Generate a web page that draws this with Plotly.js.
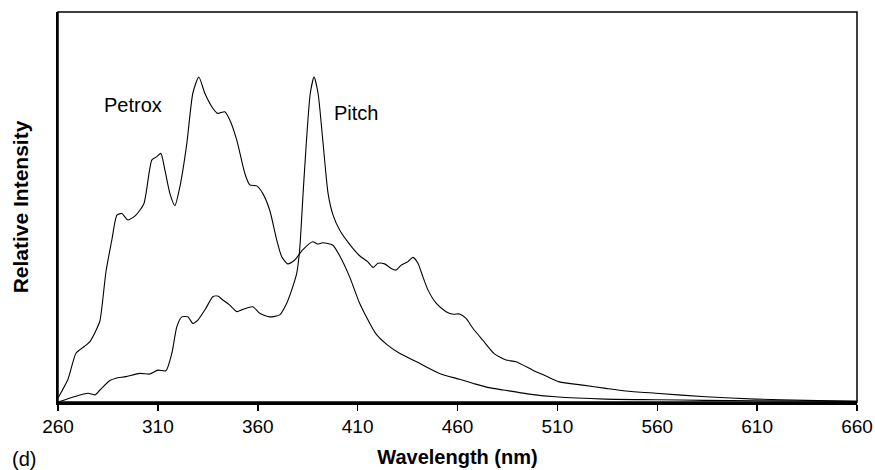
<!DOCTYPE html>
<html>
<head>
<meta charset="utf-8">
<script src="https://cdn.plot.ly/plotly-3.0.1.min.js"></script>
<style>html,body{margin:0;padding:0;background:#fff;}#chart{width:875px;height:470px;}</style>
</head>
<body>
<div id="chart"></div>
<script>
// Wavelength (nm) and relative intensity
const petroxX = [260,265,269,273,276,279,281,284,287,289.5,292,295,299,303,307,309.5,311.5,313.5,316,318.5,321,324.5,327.5,330.5,333.5,337.5,340,343.5,346,349.5,353.5,356,359.5,362.5,366,369.5,372,375,378.5,382.5,387.5,390,392.5,397.5,401,406,411,419,425,431,441,451,461,468,475,483,495,509,534,559,584,610,634,660];
const petroxY = [0.012,0.07,0.15,0.17,0.186,0.22,0.25,0.40,0.50,0.575,0.58,0.56,0.575,0.61,0.745,0.755,0.765,0.714,0.642,0.604,0.662,0.796,0.95,1.0,0.95,0.904,0.888,0.893,0.868,0.806,0.704,0.668,0.665,0.642,0.59,0.498,0.447,0.425,0.437,0.468,0.493,0.486,0.49,0.483,0.45,0.385,0.304,0.211,0.175,0.15,0.119,0.088,0.07,0.057,0.045,0.037,0.025,0.016,0.009,0.007,0.005,0.004,0.003,0.002];

const pitchX = [260,264,268,275,278.5,281,286,289,294,301,306,310,314,317,319.5,322,325,327.5,330,334,337.5,340,342.5,346,349.5,352.5,357.5,361,366,371,374.5,377,379.5,381,382.7,384.3,386.3,388.2,390.2,392.7,395.2,397.7,401,406,411,415,417.7,420.2,423.5,426.8,429.3,431.8,435.2,437.7,440.2,442.7,445.2,449.3,454.3,458,461,464.3,467.7,472.7,478.5,484.3,489.3,497.7,504.3,511,522.7,534.3,544.3,559.3,584.3,609.3,634.3,660];
const pitchY = [0.0,0.008,0.016,0.027,0.022,0.037,0.066,0.073,0.078,0.088,0.086,0.098,0.096,0.15,0.232,0.262,0.262,0.242,0.252,0.288,0.324,0.326,0.314,0.298,0.278,0.285,0.293,0.273,0.262,0.268,0.304,0.345,0.396,0.47,0.642,0.796,0.95,1.0,0.95,0.796,0.642,0.575,0.529,0.485,0.45,0.432,0.414,0.427,0.425,0.411,0.406,0.421,0.432,0.445,0.427,0.385,0.345,0.304,0.278,0.270,0.271,0.257,0.227,0.19,0.148,0.129,0.124,0.098,0.08,0.062,0.052,0.042,0.034,0.027,0.016,0.009,0.005,0.002];

const xTicks = [260,310,360,410,460,510,560,610,660];
const seriesNames = ['Petrox','Pitch'];

const FONT = '"Liberation Sans", Arial, Helvetica, sans-serif';
const lineStyle = {color:'#000', width:1.1, shape:'spline', smoothing:0.6};

const traces = [
  {x: petroxX, y: petroxY, type:'scatter', mode:'lines', name: seriesNames[0], line: lineStyle, hoverinfo:'x+y+name'},
  {x: pitchX, y: pitchY, type:'scatter', mode:'lines', name: seriesNames[1], line: lineStyle, hoverinfo:'x+y+name'}
];

const layout = {
  width: 875, height: 470,
  margin: {l:58, r:18, t:12, b:68, pad:0},
  paper_bgcolor:'#fff', plot_bgcolor:'#fff',
  showlegend:false,
  font:{family:FONT, color:'#000'},
  xaxis:{
    range:[260,660], tickmode:'array', tickvals:xTicks, ticktext:xTicks.map(String),
    ticks:'outside', ticklen:6, tickwidth:1.5, tickcolor:'#000',
    showline:true, linewidth:2.5, linecolor:'#000', mirror:false,
    showgrid:false, zeroline:false,
    tickfont:{family:FONT, size:19, color:'#000'},
    title:{text:'<b>Wavelength (nm)</b>', font:{family:FONT, size:20, color:'#000'}, standoff:14}
  },
  yaxis:{
    range:[0,1.2], showticklabels:false, ticks:'',
    showline:true, linewidth:2, linecolor:'#000', mirror:false,
    showgrid:false, zeroline:false,
    title:{text:'<b>Relative Intensity</b>', font:{family:FONT, size:21, color:'#000'}, standoff:22}
  },
  shapes:[
    {type:'rect', xref:'paper', yref:'paper', x0:0, x1:1, y0:0, y1:1, line:{color:'#000', width:1.5}, fillcolor:'rgba(0,0,0,0)', layer:'above'}
  ],
  annotations:[
    {x:297.5, y:0.914, xref:'x', yref:'y', text:seriesNames[0], showarrow:false, font:{family:FONT, size:20, color:'#000'}, xanchor:'center', yanchor:'middle'},
    {x:409, y:0.888, xref:'x', yref:'y', text:seriesNames[1], showarrow:false, font:{family:FONT, size:20, color:'#000'}, xanchor:'center', yanchor:'middle'},
    {x:-0.06, y:-0.146, xref:'paper', yref:'paper', text:'(d)', showarrow:false, font:{family:FONT, size:20, color:'#000'}, xanchor:'left', yanchor:'middle'}
  ]
};

Plotly.newPlot('chart', traces, layout, {displayModeBar:false, staticPlot:true});
</script>
</body>
</html>
